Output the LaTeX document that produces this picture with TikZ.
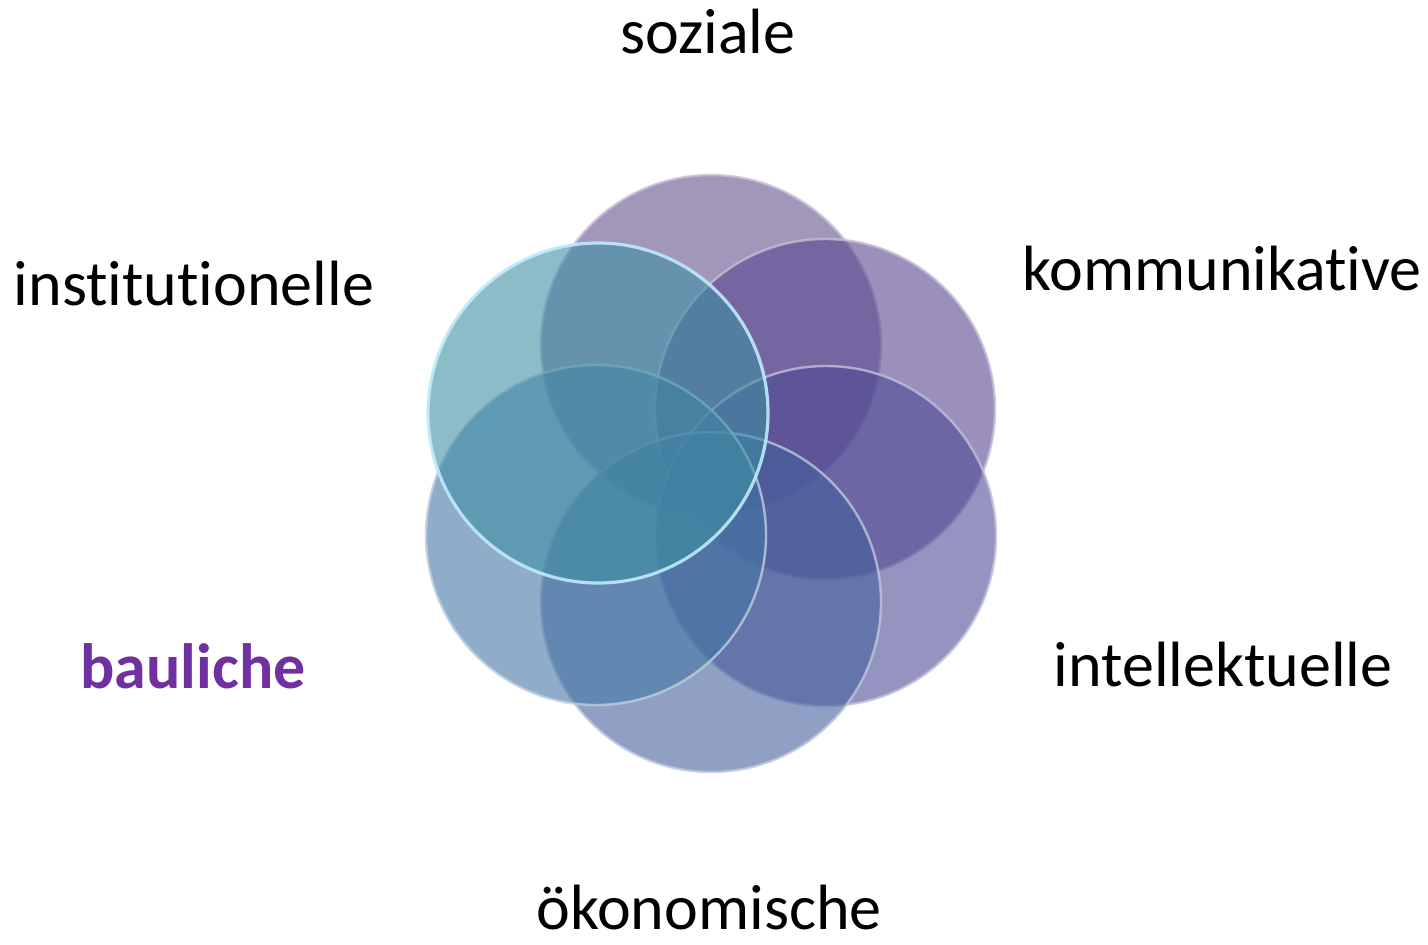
\documentclass[tikz,border=0pt]{standalone}
\usepackage{fontspec}
\setmainfont[Ligatures={NoCommon}]{Carlito}
\usepackage{tikz}
\usetikzlibrary{positioning}

\definecolor{sozcol}{RGB}{102,80,142}
\definecolor{komcol}{RGB}{88,70,142}
\definecolor{intcol}{RGB}{78,75,150}
\definecolor{oekcol}{RGB}{68,97,157}
\definecolor{baucol}{RGB}{68,118,163}
\definecolor{inscol}{RGB}{62,143,163}
\definecolor{baulabel}{RGB}{112,48,160}

\tikzset{petal/.style={circle, minimum size=170pt, inner sep=0pt, fill=#1, fill opacity=0.6,
    draw=#1!35!white, draw opacity=0.8, line width=1.2pt},
  lbl/.style={anchor=base, font=\fontsize{32}{38}\selectfont}}

\begin{document}
\begin{tikzpicture}[x=0.5pt, y=-0.5pt]
            \useasboundingbox (0,0) rectangle (1428,944);

            \node[petal=sozcol] (soz) at (711,345) {};
            \node[petal=komcol] (kom) at (825,409) {};
            \node[petal=intcol] (int) at (826,536) {};
            \node[petal=oekcol] (oek) at (711,602) {};
            \node[petal=baucol] (bau) at (596,535) {};
            \node[petal=inscol, draw=cyan!25!white, draw opacity=0.9, line width=1.6pt] (ins) at (598,413) {};

            \node[lbl] (sozlbl) at (708,53) {soziale};
            \node[lbl] (komlbl) at (1222,290) {kommunikative};
            \node[lbl] (intlbl) at (1223,686) {intellektuelle};
            \node[lbl] (oeklbl) at (709,929) {ökonomische};
            \node[lbl, font=\fontsize{32}{38}\selectfont\bfseries, text=baulabel] (baulbl) at (193,688) {bauliche};
            \node[lbl] (inslbl) at (194,305) {institutionelle};
        \end{tikzpicture}
\end{document}
